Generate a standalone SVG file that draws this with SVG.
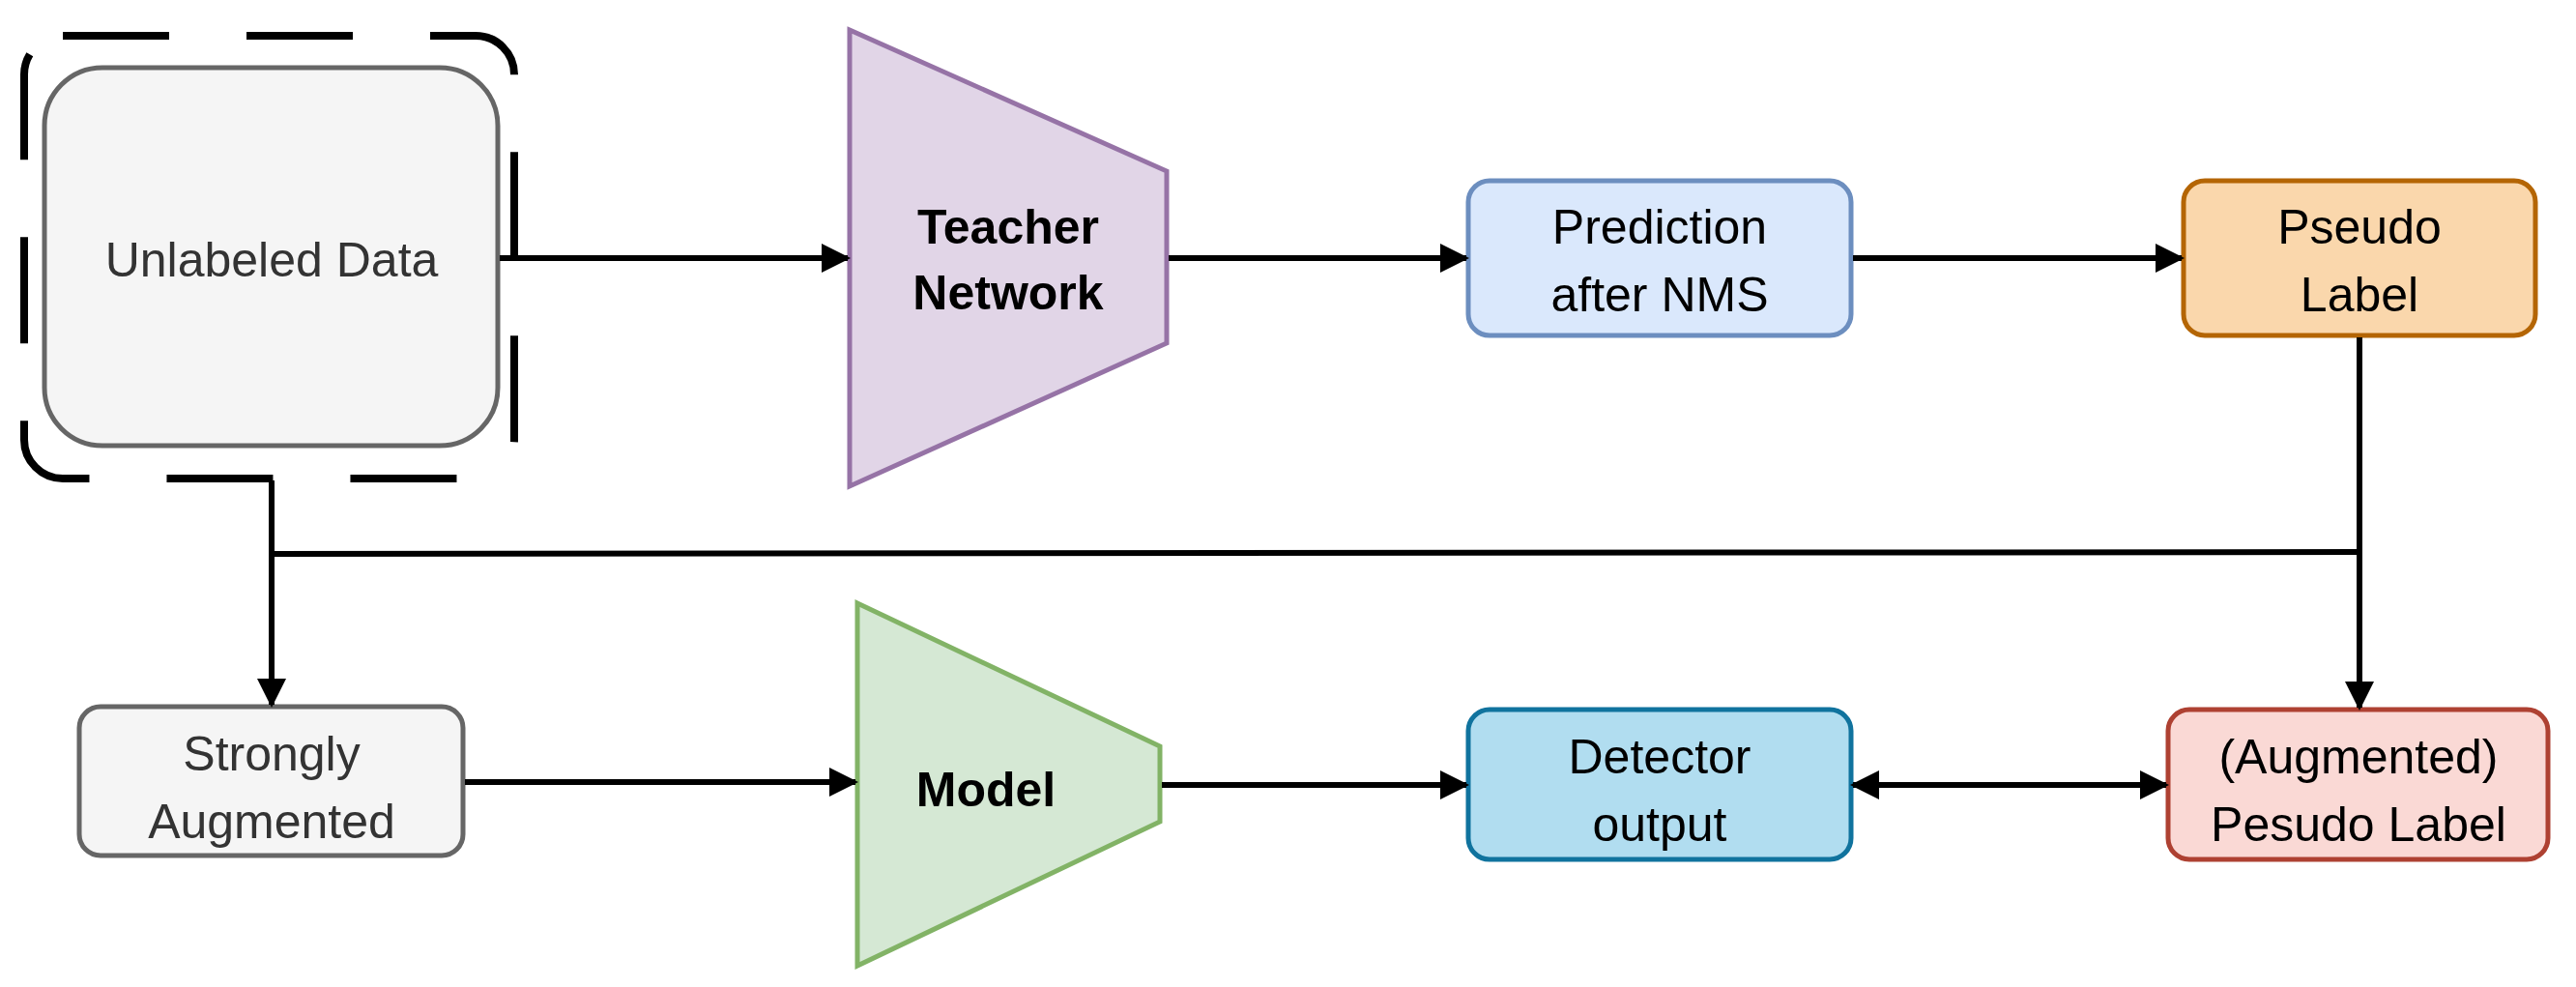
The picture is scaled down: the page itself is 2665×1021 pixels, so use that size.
<svg xmlns="http://www.w3.org/2000/svg" width="2665" height="1021" viewBox="0 0 2665 1021">
<defs>
<marker id="ah" viewBox="0 0 10 10" refX="9" refY="5" markerWidth="5" markerHeight="5" orient="auto-start-reverse"><path d="M0,0 L10,5 L0,10 z" fill="#000"/></marker>
<style>
text{font-family:"Liberation Sans",Arial,sans-serif;font-size:50px;text-anchor:middle;fill:#000}
.b{font-weight:bold}
.c{fill:none;stroke:#000;stroke-width:6}
.n{stroke-width:5}
</style>
</defs>
<rect width="2665" height="1021" fill="#fff"/>
<g id="unlabeled">
<rect x="25" y="37" width="507" height="458" rx="40" fill="none" stroke="#000" stroke-width="8" stroke-dasharray="110 80"/>
<rect x="46" y="70" width="469" height="391" rx="60" fill="#f5f5f5" stroke="#666" class="n"/>
<text x="281" y="286" fill="#333" style="fill:#333">Unlabeled Data</text>
</g>
<g id="teacher">
<path d="M879,31 L1207,177 L1207,355 L879,503 Z" fill="#e1d5e7" stroke="#9673a6" class="n"/>
<text x="1043" y="252" class="b">Teacher</text>
<text x="1043" y="320" class="b">Network</text>
</g>
<g id="prediction">
<rect x="1519" y="187" width="396" height="160" rx="22" fill="#dae8fc" stroke="#6c8ebf" class="n"/>
<text x="1717" y="252">Prediction</text>
<text x="1717" y="322">after NMS</text>
</g>
<g id="pseudo">
<rect x="2259" y="187" width="364" height="160" rx="22" fill="#fad7ac" stroke="#b46504" class="n"/>
<text x="2441" y="252">Pseudo</text>
<text x="2441" y="322">Label</text>
</g>
<g id="strong">
<rect x="82" y="731" width="397" height="154" rx="22" fill="#f5f5f5" stroke="#666" class="n"/>
<text x="281" y="797" style="fill:#333">Strongly</text>
<text x="281" y="867" style="fill:#333">Augmented</text>
</g>
<g id="model">
<path d="M887,624 L1200,772 L1200,850 L887,999 Z" fill="#d5e8d4" stroke="#82b366" class="n"/>
<text x="1020" y="834" class="b">Model</text>
</g>
<g id="detector">
<rect x="1519" y="734" width="396" height="155" rx="22" fill="#b1ddf0" stroke="#10739e" class="n"/>
<text x="1717" y="800">Detector</text>
<text x="1717" y="870">output</text>
</g>
<g id="augpseudo">
<rect x="2243" y="734" width="393" height="155" rx="22" fill="#fad9d5" stroke="#ae4132" class="n"/>
<text x="2440" y="800">(Augmented)</text>
<text x="2440" y="870">Pesudo Label</text>
</g>
<g id="connectors">
<path class="c" d="M517,267 L877,267" marker-end="url(#ah)"/>
<path class="c" d="M1209,267 L1517,267" marker-end="url(#ah)"/>
<path class="c" d="M1917,267 L2257,267" marker-end="url(#ah)"/>
<path class="c" d="M2441,349 L2441,732" marker-end="url(#ah)"/>
<path class="c" d="M2441,571 L281,573"/>
<path class="c" d="M281,497 L281,729" marker-end="url(#ah)"/>
<path class="c" d="M481,809 L885,809" marker-end="url(#ah)"/>
<path class="c" d="M1202,812 L1517,812" marker-end="url(#ah)"/>
<path class="c" d="M1917,812 L2241,812" marker-start="url(#ah)" marker-end="url(#ah)"/>
</g>
</svg>
